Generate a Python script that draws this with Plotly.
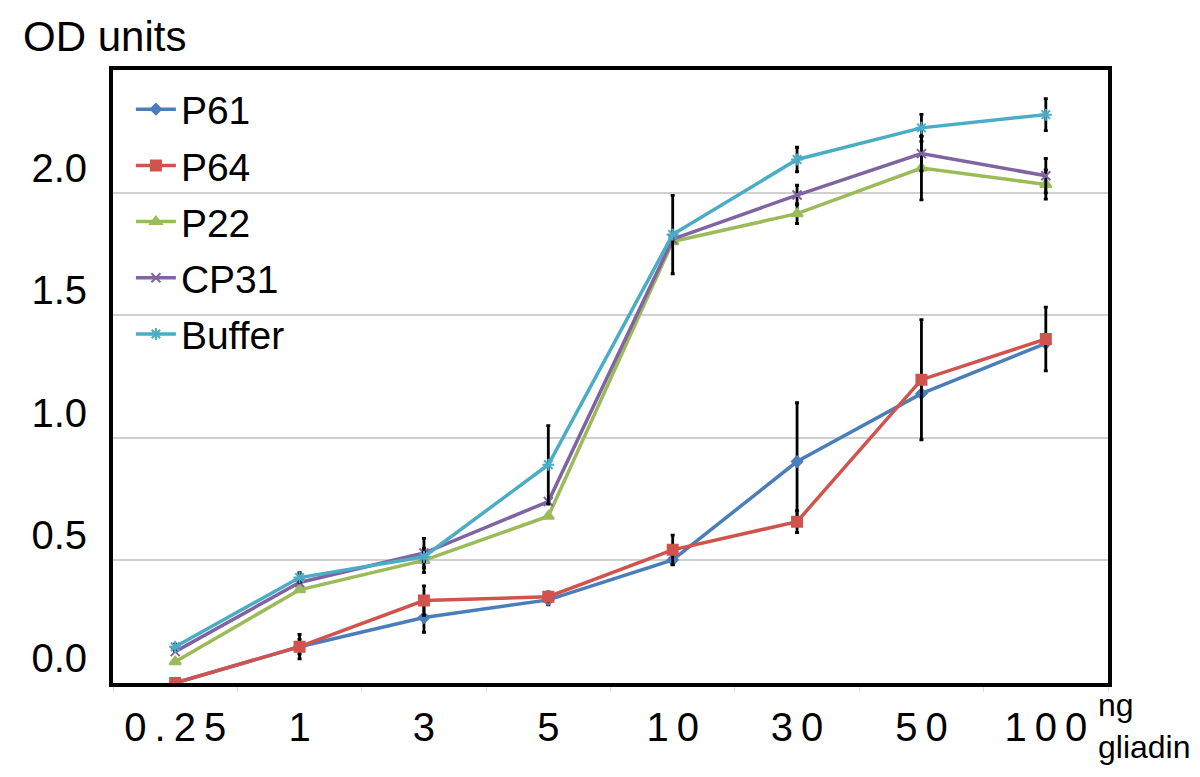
import plotly.graph_objects as go

categories = ["0.25", "1", "3", "5", "10", "30", "50", "100"]
tick_labels = ["0\u2009.\u20092\u20095", "1", "3", "5", "1\u20090", "3\u20090", "5\u20090", "1\u20090\u20090"]

p61 = [0.0, 0.148, 0.267, 0.339, 0.502, 0.903, 1.18, 1.385]
p61_err = [0.0, 0.03, 0.06, 0.02, 0.02, 0.24, 0.0, 0.0]
p64 = [0.0, 0.148, 0.336, 0.352, 0.543, 0.658, 1.237, 1.403]
p64_err = [0.0, 0.05, 0.06, 0.02, 0.06, 0.045, 0.245, 0.13]
p22 = [0.087, 0.38, 0.50, 0.68, 1.80, 1.914, 2.10, 2.033]
p22_err = [0.0, 0.0, 0.05, 0.0, 0.0, 0.04, 0.13, 0.06]
cp31 = [0.128, 0.41, 0.53, 0.74, 1.81, 1.99, 2.159, 2.069]
cp31_err = [0.0, 0.0, 0.06, 0.0, 0.0, 0.04, 0.07, 0.07]
buffer = [0.148, 0.43, 0.515, 0.89, 1.829, 2.135, 2.264, 2.318]
buffer_err = [0.01, 0.02, 0.02, 0.16, 0.16, 0.05, 0.055, 0.065]

y_ticks = [0.0, 0.5, 1.0, 1.5, 2.0]
y_tick_labels = ["0.0", "0.5", "1.0", "1.5", "2.0"]

FONT = "Liberation Sans, Arial, sans-serif"

series = [
    ("P61", p61, p61_err, "#4A7EBB", "diamond", 8),
    ("P64", p64, p64_err, "#D0534E", "square", 10),
    ("P22", p22, p22_err, "#9BBB59", "triangle-up", 10),
    ("CP31", cp31, cp31_err, "#8064A2", "x-thin-open", 9),
    ("Buffer", buffer, buffer_err, "#4BACC6", "asterisk-open", 10),
]

fig = go.Figure()
for name, vals, errs, color, sym, size in series:
    fig.add_trace(go.Scatter(
        x=categories, y=vals, name=name, mode="lines+markers",
        legendgroup=name,
        line=dict(color=color, width=3.5),
        marker=dict(symbol=sym, size=size, color=color,
                    line=dict(color=color, width=2)),
        error_y=dict(type="data", array=errs, visible=True,
                     color="black", thickness=2.8, width=2),
    ))

fig.update_layout(
    width=1184, height=761,
    margin=dict(l=105, r=84, t=62, b=86, autoexpand=False),
    paper_bgcolor="white", plot_bgcolor="white",
    font=dict(family=FONT, color="black"),
    showlegend=True,
    legend=dict(
        x=0.018, y=0.988, xanchor="left", yanchor="top",
        bgcolor="rgba(255,255,255,0)",
        font=dict(size=39, family=FONT),
        tracegroupgap=2.5, itemwidth=40,
    ),
    xaxis=dict(
        type="category", categoryorder="array", categoryarray=categories,
        tickmode="array", tickvals=categories, ticktext=tick_labels,
        range=[-0.5, 7.5], automargin=False,
        showline=True, linecolor="black", linewidth=4, mirror=True,
        showgrid=False, zeroline=False,
        ticks="outside", tickson="boundaries", tickcolor="#dddddd", ticklen=5,
        tickfont=dict(size=40, family=FONT),
        ticklabelstandoff=6,
    ),
    yaxis=dict(
        range=[0, 2.5], automargin=False,
        tickmode="array", tickvals=y_ticks, ticktext=y_tick_labels,
        showline=True, linecolor="black", linewidth=4, mirror=True,
        showgrid=True, gridcolor="#d0d0d0", gridwidth=1.5,
        zeroline=False, ticks="",
        tickfont=dict(size=40, family=FONT),
        ticklabelshift=-25, ticklabelstandoff=14,
    ),
    annotations=[
        dict(text="OD units", xref="paper", yref="paper", x=-0.092, y=1.0,
             xanchor="left", yanchor="bottom", yshift=8, showarrow=False,
             font=dict(size=42, family=FONT)),
        dict(text="ng<br>gliadin", xref="paper", yref="paper", x=1.0, y=0.0,
             xanchor="left", yanchor="top", xshift=-12, yshift=-2, showarrow=False,
             align="left", font=dict(size=32, family=FONT)),
    ],
)

fig.write_html("out.html")
